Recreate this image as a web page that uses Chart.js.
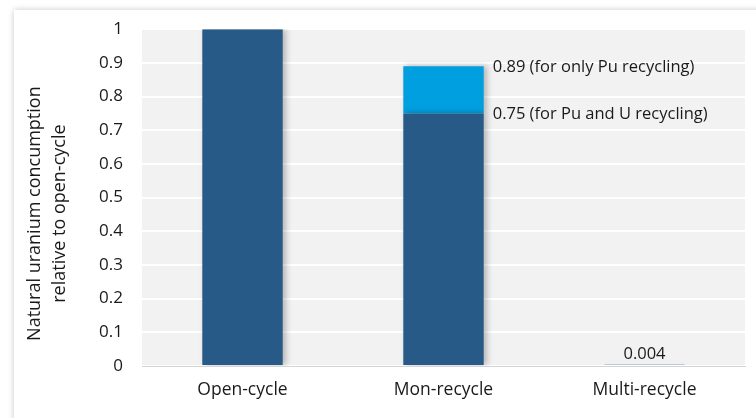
<!DOCTYPE html>
<html>
<head>
<meta charset="utf-8">
<script src="https://cdn.jsdelivr.net/npm/chart.js@4/dist/chart.umd.min.js"></script>
<style>
  html, body { margin: 0; padding: 0; background: #ffffff; }
  body { width: 756px; height: 418px; position: relative; overflow: hidden; }
  #card {
    position: absolute; left: 14px; top: 10px; width: 780px; height: 440px;
    background: #ffffff; box-shadow: 0 0 6px rgba(0, 0, 0, 0.22);
  }
  #wrap { position: absolute; left: 0; top: 0; width: 756px; height: 418px; }
</style>
</head>
<body>
<div id="card"></div>
<div id="wrap"><canvas id="chart"></canvas></div>
<script>
// ============================================
// DATA
// ============================================

const CATEGORIES = ['Open-cycle', 'Mon-recycle', 'Multi-recycle'];
// consumption with Pu and U recycling (dark segment)
const PU_AND_U = [1, 0.75, 0.004];
// extra consumption when only Pu is recycled (light segment, 0.89 - 0.75)
const ONLY_PU_EXTRA = [0, 0.14, 0];
const Y_MIN = 0;
const Y_MAX = 1;
const Y_STEP = 0.1;
const Y_TITLE = ['Natural uranium concumption', 'relative to open-cycle'];
// value labels: [category index, value, text, placement]
const VALUE_LABELS = [
  [1, 0.89, '0.89 (for only Pu recycling)', 'right'],
  [1, 0.75, '0.75 (for Pu and U recycling)', 'right'],
  [2, 0.004, '0.004', 'top'],
];

const FONT = '"Open Sans", "Liberation Sans", sans-serif';
const DARK = '#285a87';
const LIGHT = '#009fe0';

// ============================================
// PLUGINS
// ============================================

// light grey plot background
const plotBackground = {
  id: 'plotBackground',
  beforeDraw(chart) {
    const { ctx, chartArea: a } = chart;
    ctx.save();
    ctx.fillStyle = '#f2f2f2';
    ctx.fillRect(a.left, a.top, a.right - a.left, a.bottom - a.top);
    ctx.restore();
  },
};

// soft shadow to the right of the bars
const barShadow = {
  id: 'barShadow',
  beforeDatasetsDraw(chart) {
    const ctx = chart.ctx;
    ctx.save();
    ctx.shadowColor = 'rgba(0, 0, 0, 0.25)';
    ctx.shadowBlur = 6;
    ctx.shadowOffsetX = 3;
    ctx.shadowOffsetY = 0;
  },
  afterDatasetsDraw(chart) {
    chart.ctx.restore();
  },
};

// rotated two-line y axis title, centred a little below the plot middle
const yTitle = {
  id: 'yTitle',
  afterDraw(chart) {
    const ctx = chart.ctx;
    const a = chart.chartArea;
    const cy = (a.top + a.bottom) / 2 + 16;
    ctx.save();
    ctx.font = '18px ' + FONT;
    ctx.fillStyle = '#1a1a1a';
    ctx.textAlign = 'center';
    ctx.textBaseline = 'middle';
    Y_TITLE.forEach((line, i) => {
      ctx.save();
      ctx.translate(35 + i * 25, cy);
      ctx.rotate(-Math.PI / 2);
      ctx.fillText(line, 0, 0);
      ctx.restore();
    });
    ctx.restore();
  },
};

// text labels beside / above the bars
const valueLabels = {
  id: 'valueLabels',
  afterDatasetsDraw(chart) {
    const { ctx, scales } = chart;
    const meta = chart.getDatasetMeta(0);
    ctx.save();
    ctx.font = '16.5px ' + FONT;
    ctx.fillStyle = '#1a1a1a';
    VALUE_LABELS.forEach(([idx, value, text, place]) => {
      const bar = meta.data[idx];
      const y = scales.y.getPixelForValue(value);
      if (place === 'right') {
        ctx.textAlign = 'left';
        ctx.textBaseline = 'middle';
        ctx.fillText(text, bar.x + bar.width / 2 + 9, y + 1);
      } else {
        ctx.textAlign = 'center';
        ctx.textBaseline = 'bottom';
        ctx.fillText(text, bar.x, y - 2);
      }
    });
    ctx.restore();
  },
};

// ============================================
// CHART
// ============================================

const ctx = document.getElementById('chart').getContext('2d');

new Chart(ctx, {
  type: 'bar',
  data: {
    labels: CATEGORIES,
    datasets: [
      {
        label: 'Pu and U recycling',
        data: PU_AND_U,
        backgroundColor: DARK,
        categoryPercentage: 1,
        barPercentage: 0.4,
      },
      {
        label: 'Only Pu recycling',
        data: ONLY_PU_EXTRA,
        backgroundColor: LIGHT,
        categoryPercentage: 1,
        barPercentage: 0.4,
      },
    ],
  },
  options: {
    responsive: true,
    maintainAspectRatio: false,
    animation: false,
    layout: {
      padding: { top: 27, right: 11, left: 0, bottom: 0 },
    },
    plugins: {
      legend: { display: false },
      tooltip: { enabled: false },
    },
    scales: {
      x: {
        stacked: true,
        grid: { display: false, drawTicks: false },
        border: { display: true, color: '#d4d4d4', width: 1 },
        ticks: {
          color: '#1a1a1a',
          font: { family: FONT, size: 17.5 },
          padding: 14,
        },
        afterFit(scale) {
          scale.height = 52;
        },
      },
      y: {
        stacked: true,
        min: Y_MIN,
        max: Y_MAX,
        grid: { color: '#ffffff', lineWidth: 2, drawTicks: false },
        border: { display: false },
        ticks: {
          stepSize: Y_STEP,
          color: '#1a1a1a',
          font: { family: FONT, size: 17 },
          padding: 19,
          callback: (v) => Math.round(v * 10) / 10,
        },
        afterFit(scale) {
          scale.width = 142;
        },
      },
    },
  },
  plugins: [plotBackground, barShadow, yTitle, valueLabels],
});
</script>
</body>
</html>
